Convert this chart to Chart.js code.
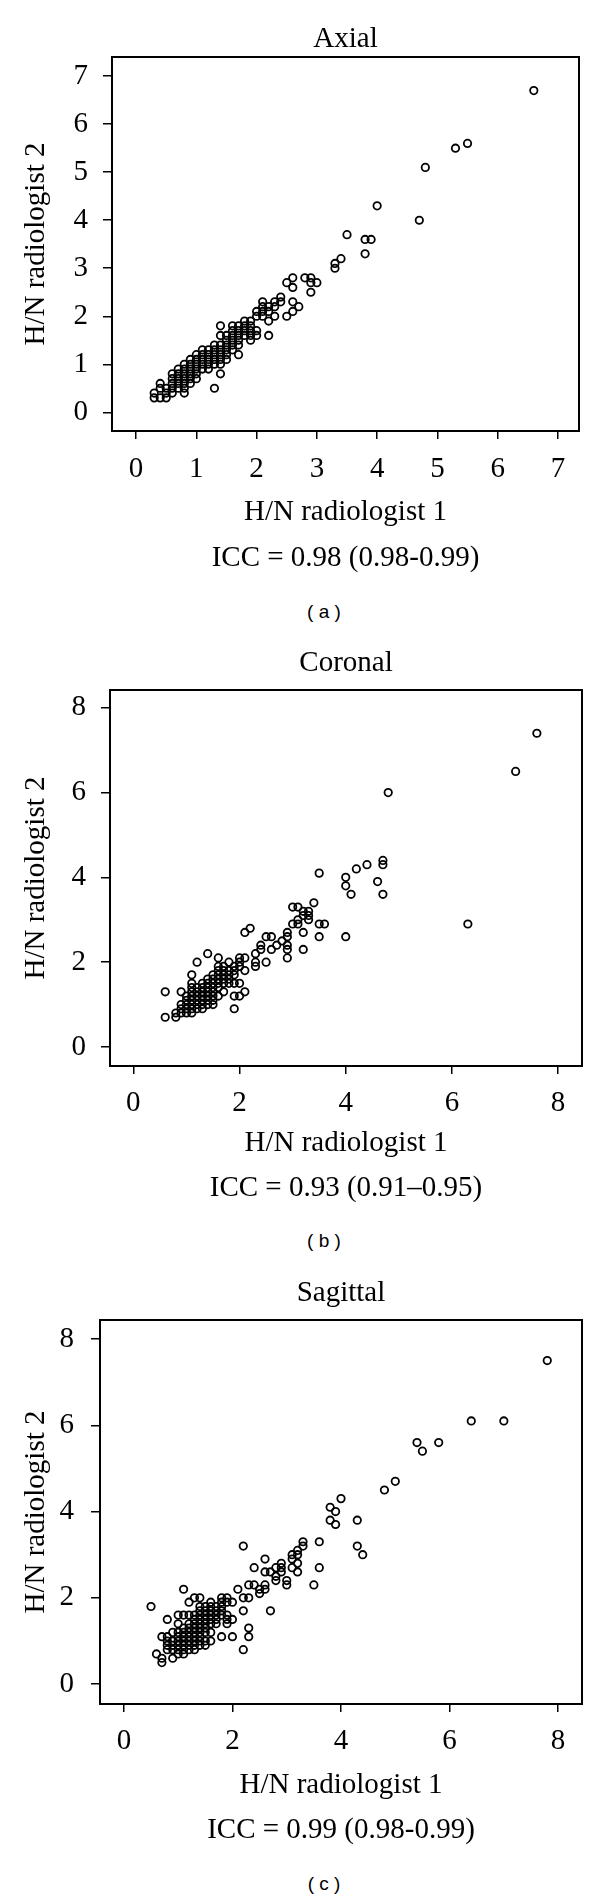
<!DOCTYPE html>
<html>
<head>
<meta charset="utf-8">
<script src="https://cdn.jsdelivr.net/npm/chart.js@4/dist/chart.umd.min.js"></script>
<style>
  body { margin: 0; background: #fff; }
  #page { position: relative; width: 600px; height: 1901px; }
  canvas { position: absolute; left: 0; }
  .tag { position: absolute; left: 0; width: 648px; text-align: center;
         font: 19px "Liberation Sans", sans-serif; color: #000; }
</style>
</head>
<body>
<div id="page">
  <canvas id="axial" width="600" height="590" style="top:0px"></canvas>
  <div class="tag" style="top:601px">( a )</div>
  <canvas id="coronal" width="600" height="590" style="top:630px"></canvas>
  <div class="tag" style="top:1230px">( b )</div>
  <canvas id="sagittal" width="600" height="600" style="top:1260px"></canvas>
  <div class="tag" style="top:1873px">( c )</div>
</div>
<script>
// [radiologist 1, radiologist 2] H/N values
var axialPoints = [
  [0.3,0.3],[0.3,0.4],
  [0.4,0.3],[0.4,0.5],[0.4,0.6],
  [0.5,0.3],[0.5,0.4],[0.5,0.5],
  [0.6,0.4],[0.6,0.5],[0.6,0.6],[0.6,0.7],[0.6,0.8],
  [0.7,0.5],[0.7,0.6],[0.7,0.7],[0.7,0.8],[0.7,0.9],
  [0.8,0.4],[0.8,0.5],[0.8,0.6],[0.8,0.7],[0.8,0.8],[0.8,0.9],[0.8,1.0],
  [0.9,0.6],[0.9,0.7],[0.9,0.8],[0.9,0.9],[0.9,1.0],[0.9,1.1],
  [1.0,0.7],[1.0,0.8],[1.0,0.9],[1.0,1.0],[1.0,1.1],[1.0,1.2],
  [1.1,0.9],[1.1,1.0],[1.1,1.1],[1.1,1.2],[1.1,1.3],
  [1.2,0.9],[1.2,1.0],[1.2,1.1],[1.2,1.2],[1.2,1.3],
  [1.3,0.5],[1.3,1.0],[1.3,1.1],[1.3,1.2],[1.3,1.3],[1.3,1.4],
  [1.4,0.8],[1.4,1.0],[1.4,1.1],[1.4,1.2],[1.4,1.3],[1.4,1.4],[1.4,1.6],[1.4,1.8],
  [1.5,1.1],[1.5,1.2],[1.5,1.3],[1.5,1.4],[1.5,1.5],[1.5,1.6],
  [1.6,1.3],[1.6,1.4],[1.6,1.5],[1.6,1.6],[1.6,1.7],[1.6,1.8],
  [1.7,1.2],[1.7,1.4],[1.7,1.5],[1.7,1.6],[1.7,1.7],[1.7,1.8],
  [1.8,1.6],[1.8,1.7],[1.8,1.8],[1.8,1.9],
  [1.9,1.5],[1.9,1.6],[1.9,1.7],[1.9,1.8],[1.9,1.9],
  [2.0,1.6],[2.0,1.7],[2.0,2.0],[2.0,2.1],
  [2.1,2.0],[2.1,2.1],[2.1,2.2],[2.1,2.3],
  [2.2,1.6],[2.2,1.9],[2.2,2.1],[2.2,2.2],
  [2.3,2.0],[2.3,2.2],[2.3,2.3],
  [2.4,2.3],[2.4,2.4],
  [2.5,2.0],[2.5,2.7],
  [2.6,2.1],[2.6,2.3],[2.6,2.6],[2.6,2.8],
  [2.7,2.2],[2.8,2.8],
  [2.9,2.5],[2.9,2.7],[2.9,2.8],[3.0,2.7],
  [3.3,3.0],[3.3,3.1],[3.4,3.2],[3.5,3.7],
  [3.8,3.3],[3.8,3.6],[3.9,3.6],[4.0,4.3],[4.7,4.0],[4.8,5.1],
  [5.3,5.5],[5.5,5.6],[6.6,6.7]
];

var coronalPoints = [
  [0.6,0.7],[0.6,1.3],
  [0.8,0.7],[0.8,0.8],
  [0.9,0.8],[0.9,0.9],[0.9,1.0],[0.9,1.3],
  [1.0,0.8],[1.0,0.9],[1.0,1.0],[1.0,1.1],[1.0,1.2],
  [1.1,0.8],[1.1,0.9],[1.1,1.0],[1.1,1.1],[1.1,1.2],[1.1,1.3],[1.1,1.4],[1.1,1.5],[1.1,1.7],
  [1.2,0.9],[1.2,1.0],[1.2,1.1],[1.2,1.2],[1.2,1.3],[1.2,1.4],[1.2,2.0],
  [1.3,0.9],[1.3,1.0],[1.3,1.1],[1.3,1.2],[1.3,1.3],[1.3,1.4],[1.3,1.5],
  [1.4,1.0],[1.4,1.1],[1.4,1.2],[1.4,1.3],[1.4,1.4],[1.4,1.5],[1.4,1.6],[1.4,2.2],
  [1.5,1.0],[1.5,1.1],[1.5,1.2],[1.5,1.3],[1.5,1.4],[1.5,1.5],[1.5,1.6],[1.5,1.7],
  [1.6,1.2],[1.6,1.4],[1.6,1.5],[1.6,1.6],[1.6,1.7],[1.6,1.8],[1.6,1.9],[1.6,2.1],
  [1.7,1.3],[1.7,1.5],[1.7,1.6],[1.7,1.7],[1.7,1.8],[1.7,1.9],
  [1.8,1.5],[1.8,1.6],[1.8,1.7],[1.8,1.8],[1.8,2.0],
  [1.9,0.9],[1.9,1.2],[1.9,1.5],[1.9,1.7],[1.9,1.8],[1.9,1.9],
  [2.0,1.2],[2.0,1.5],[2.0,1.9],[2.0,2.0],[2.0,2.1],
  [2.1,1.3],[2.1,1.8],[2.1,2.1],[2.1,2.7],[2.2,2.8],
  [2.3,1.9],[2.3,2.0],[2.3,2.2],[2.4,2.3],[2.4,2.4],
  [2.5,2.0],[2.5,2.6],[2.6,2.3],[2.6,2.6],[2.7,2.4],[2.8,2.5],
  [2.9,2.1],[2.9,2.3],[2.9,2.4],[2.9,2.6],[2.9,2.7],
  [3.0,2.9],[3.0,3.3],[3.1,2.9],[3.1,3.0],[3.1,3.3],
  [3.2,2.3],[3.2,2.7],[3.2,3.1],[3.2,3.2],
  [3.3,3.0],[3.3,3.1],[3.3,3.2],[3.4,3.4],
  [3.5,2.6],[3.5,2.9],[3.5,4.1],[3.6,2.9],
  [4.0,2.6],[4.0,3.8],[4.0,4.0],[4.1,3.6],[4.2,4.2],[4.4,4.3],
  [4.6,3.9],[4.7,3.6],[4.7,4.3],[4.7,4.4],[4.8,6.0],
  [6.3,2.9],[7.2,6.5],[7.6,7.4]
];

var sagittalPoints = [
  [0.5,1.8],[0.6,0.7],[0.7,0.5],[0.7,0.6],[0.7,1.1],
  [0.8,0.8],[0.8,0.9],[0.8,1.0],[0.8,1.1],[0.8,1.5],
  [0.9,0.6],[0.9,0.8],[0.9,0.9],[0.9,1.0],[0.9,1.2],
  [1.0,0.7],[1.0,0.8],[1.0,0.9],[1.0,1.0],[1.0,1.1],[1.0,1.2],[1.0,1.4],[1.0,1.6],
  [1.1,0.7],[1.1,0.8],[1.1,0.9],[1.1,1.0],[1.1,1.1],[1.1,1.2],[1.1,1.3],[1.1,1.6],[1.1,2.2],
  [1.2,0.8],[1.2,0.9],[1.2,1.0],[1.2,1.1],[1.2,1.2],[1.2,1.3],[1.2,1.4],[1.2,1.6],[1.2,1.9],
  [1.3,0.8],[1.3,0.9],[1.3,1.0],[1.3,1.1],[1.3,1.2],[1.3,1.3],[1.3,1.4],[1.3,1.5],[1.3,1.6],[1.3,2.0],
  [1.4,0.9],[1.4,1.0],[1.4,1.1],[1.4,1.2],[1.4,1.3],[1.4,1.4],[1.4,1.5],[1.4,1.6],[1.4,1.7],[1.4,1.8],[1.4,2.0],
  [1.5,0.9],[1.5,1.0],[1.5,1.2],[1.5,1.3],[1.5,1.4],[1.5,1.5],[1.5,1.6],[1.5,1.7],[1.5,1.8],
  [1.6,1.0],[1.6,1.2],[1.6,1.4],[1.6,1.5],[1.6,1.6],[1.6,1.7],[1.6,1.8],[1.6,1.9],
  [1.7,1.4],[1.7,1.5],[1.7,1.6],[1.7,1.7],[1.7,1.8],
  [1.8,1.1],[1.8,1.6],[1.8,1.7],[1.8,1.8],[1.8,1.9],[1.8,2.0],
  [1.9,1.4],[1.9,1.5],[1.9,1.6],[1.9,1.9],[1.9,2.0],
  [2.0,1.1],[2.0,1.5],[2.0,1.9],
  [2.1,2.2],[2.2,0.8],[2.2,1.7],[2.2,2.0],[2.2,3.2],
  [2.3,1.1],[2.3,1.3],[2.3,2.0],[2.3,2.3],[2.4,2.3],[2.4,2.7],
  [2.5,2.1],[2.5,2.2],[2.6,2.2],[2.6,2.3],[2.6,2.6],[2.6,2.9],[2.7,1.7],[2.7,2.6],
  [2.8,2.4],[2.8,2.5],[2.8,2.7],[2.9,2.6],[2.9,2.7],[2.9,2.8],
  [3.0,2.3],[3.0,2.4],[3.1,2.7],[3.1,2.9],[3.1,3.0],
  [3.2,2.6],[3.2,2.8],[3.2,3.0],[3.2,3.1],[3.3,3.2],[3.3,3.3],
  [3.5,2.3],[3.6,2.7],[3.6,3.3],
  [3.8,3.8],[3.8,4.1],[3.9,3.7],[3.9,4.0],[4.0,4.3],
  [4.3,3.2],[4.3,3.8],[4.4,3.0],
  [4.8,4.5],[5.0,4.7],[5.4,5.6],[5.5,5.4],[5.8,5.6],
  [6.4,6.1],[7.0,6.1],[7.8,7.5]
];

var axialTicks = [0, 1, 2, 3, 4, 5, 6, 7];
var wideTicks = [0, 2, 4, 6, 8];

var panelTitles = ['Axial', 'Coronal', 'Sagittal'];
var iccLabels = ['ICC = 0.98 (0.98-0.99)', 'ICC = 0.93 (0.91\u20130.95)', 'ICC = 0.99 (0.98-0.99)'];
var xLabel = 'H/N radiologist 1';
var yLabel = 'H/N radiologist 2';

Chart.defaults.color = '#000';
Chart.defaults.font.family = '"Liberation Serif", serif';
Chart.defaults.font.size = 29;

// R style box around the plotting region
var framePlugin = {
    id: 'frame',
    afterDraw: function(chart) {
        var a = chart.chartArea;
        var ctx = chart.ctx;
        ctx.save();
        ctx.strokeStyle = '#000';
        ctx.lineWidth = 2;
        ctx.strokeRect(a.left, a.top, a.right - a.left, a.bottom - a.top);
        ctx.restore();
    }
};

function makePanel(id, points, ticks, lim, title, icc, g) {
    var serif = {family: '"Liberation Serif", serif', size: 29, weight: 'normal', lineHeight: 1.2};
    return new Chart(document.getElementById(id), {
        type: 'scatter',
        data: {
            datasets: [{
                data: points.map(function(p) { return {x: p[0], y: p[1]}; }),
                pointStyle: 'circle',
                pointRadius: 3.7,
                borderWidth: 1.8,
                borderColor: '#000',
                backgroundColor: 'rgba(0,0,0,0)'
            }]
        },
        options: {
            responsive: false,
            animation: false,
            devicePixelRatio: 1,
            layout: {padding: {left: 0, right: g.right, top: 0, bottom: g.bottom}},
            plugins: {
                legend: {display: false},
                tooltip: {enabled: false},
                title: {display: true, fullSize: false, text: title, font: serif,
                        padding: {top: g.titleTop, bottom: g.titleBottom}},
                subtitle: {display: true, fullSize: false, text: icc, position: 'bottom', font: serif,
                           padding: {top: g.iccTop, bottom: 0}}
            },
            scales: {
                x: {
                    type: 'linear', min: lim[0], max: lim[1],
                    afterBuildTicks: function(s) { s.ticks = ticks.map(function(v) { return {value: v}; }); },
                    afterFit: function(s) { s.height = g.xHeight; },
                    border: {display: false},
                    grid: {drawOnChartArea: false, drawTicks: true, tickLength: 8, color: '#000', lineWidth: 1.5},
                    ticks: {font: serif, padding: g.xPad, maxRotation: 0},
                    title: {display: true, text: xLabel, font: serif, padding: {top: 0, bottom: 0}}
                },
                y: {
                    type: 'linear', min: lim[2], max: lim[3],
                    afterBuildTicks: function(s) { s.ticks = ticks.map(function(v) { return {value: v}; }); },
                    afterFit: function(s) { s.width = g.yWidth; },
                    border: {display: false},
                    grid: {drawOnChartArea: false, drawTicks: true, tickLength: 9, color: '#000', lineWidth: 1.5},
                    ticks: {font: serif, padding: g.yPad},
                    title: {display: true, text: yLabel, font: serif, padding: {top: 18.6, bottom: 0}}
                }
            }
        },
        plugins: [framePlugin]
    });
}

makePanel('axial', axialPoints, axialTicks, [-0.4, 7.35, -0.39, 7.4], panelTitles[0], iccLabels[0],
    {right: 21, bottom: 14.6, titleTop: 22, titleBottom: 0.2, xHeight: 98.4, xPad: 13, yWidth: 112, yPad: 15, iccTop: 11.2});
makePanel('coronal', coronalPoints, wideTicks, [-0.44, 8.45, -0.45, 8.42], panelTitles[1], iccLabels[1],
    {right: 18, bottom: 14.6, titleTop: 15.6, titleBottom: 9.6, xHeight: 94.4, xPad: 12, yWidth: 110, yPad: 15, iccTop: 10.2});
makePanel('sagittal', sagittalPoints, wideTicks, [-0.44, 8.44, -0.46, 8.44], panelTitles[2], iccLabels[2],
    {right: 18, bottom: 12.6, titleTop: 15.6, titleBottom: 9.6, xHeight: 98.4, xPad: 12, yWidth: 100, yPad: 17, iccTop: 10.2});
</script>
</body>
</html>
